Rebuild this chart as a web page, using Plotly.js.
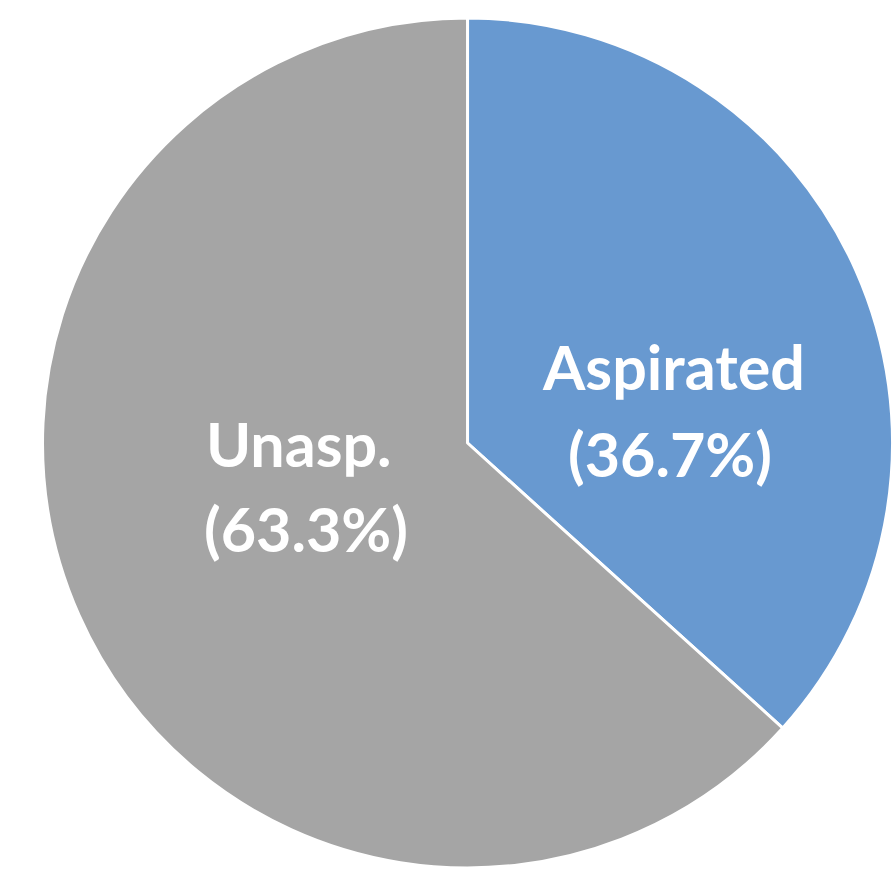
<!DOCTYPE html>
<html>
<head>
<meta charset="utf-8">
<script src="https://cdn.plot.ly/plotly-3.0.1.min.js"></script>
<style>html,body{margin:0;padding:0;background:#fff;}#chart{width:896px;height:869px;}</style>
</head>
<body>
<div id="chart"></div>
<script>
const labels = ["Aspirated", "Unasp."];
const values = [36.7, 63.3];
const colors = ["#6899d0", "#a5a5a5"];

const W = 896, H = 869;
// label placement (page pixels): [name line centre, percent line centre]
const labelPos = [
  { x: 673, y1: 366, x2: 670, y2: 453 },
  { x: 299, y1: 443, x2: 306, y2: 528 }
];

const trace = {
  type: "pie",
  labels: labels,
  values: values,
  sort: false,
  direction: "clockwise",
  rotation: 0,
  marker: { colors: colors, line: { color: "#ffffff", width: 3 } },
  textinfo: "none",
  hoverinfo: "none",
  showlegend: false,
  domain: { x: [0.0436, 1.0], y: [1 / H, 1 - 18 / H] }
};

const font = { family: "Lato, 'Open Sans', sans-serif", size: 61, color: "#ffffff", weight: "bold" };
const annotations = [];
labels.forEach((lab, i) => {
  const p = labelPos[i];
  annotations.push({
    xref: "paper", yref: "paper", x: p.x / W, y: 1 - p.y1 / H,
    xanchor: "center", yanchor: "middle", showarrow: false,
    text: "<b>" + lab + "</b>", font: font
  });
  annotations.push({
    xref: "paper", yref: "paper", x: p.x2 / W, y: 1 - p.y2 / H,
    xanchor: "center", yanchor: "middle", showarrow: false,
    text: "<b>(" + values[i].toFixed(1) + "%)</b>", font: font
  });
});

const layout = {
  width: W,
  height: H,
  margin: { l: 0, r: 0, t: 0, b: 0 },
  paper_bgcolor: "#ffffff",
  showlegend: false,
  annotations: annotations
};

Plotly.newPlot("chart", [trace], layout, { staticPlot: true, displayModeBar: false });
</script>
</body>
</html>
